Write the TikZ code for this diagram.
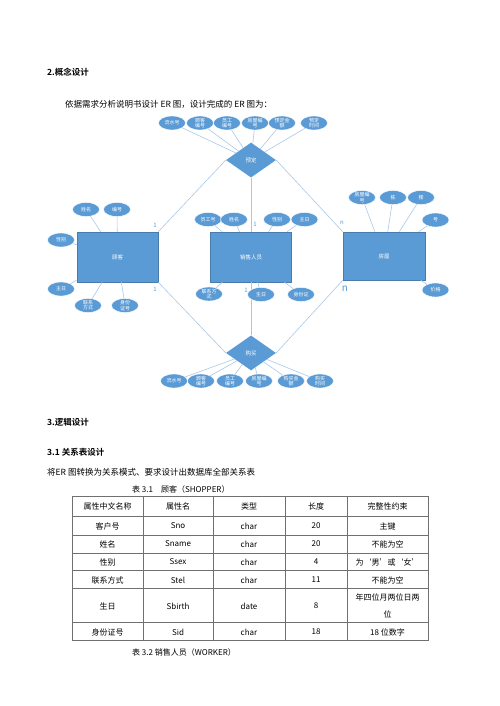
\documentclass[tikz,border=0pt]{standalone}
\usepackage{fontspec}
\setmainfont{Noto Sans CJK SC}[BoldFont={Noto Sans CJK SC Bold}]
\usepackage{tikz}
\usetikzlibrary{positioning, shapes.geometric}

\definecolor{erblue}{HTML}{5B9BD5}
\definecolor{erline}{HTML}{A9C8E8}
\definecolor{tabgray}{HTML}{707070}

\tikzset{
  entity/.style={draw=erblue!80!black, line width=0.5pt, fill=erblue, text=white,
    minimum width=81pt, minimum height=50pt, font=\fontsize{5.5}{6}\selectfont},
  relation/.style={diamond, fill=erblue, text=white, minimum width=50pt,
    minimum height=35pt, inner sep=0pt, font=\fontsize{5.5}{6}\selectfont},
  attr/.style={ellipse, fill=erblue, draw=white, line width=0.4pt, text=white,
    minimum width=27pt, minimum height=14pt, inner sep=0pt, align=center,
    font=\fontsize{5}{5.2}\selectfont},
  erlink/.style={draw=erline, line width=0.6pt},
  card/.style={text=erblue, inner sep=0pt, font=\fontsize{6}{6}\selectfont},
  para/.style={anchor=base west, inner sep=0pt, font=\fontsize{8.5}{10}\selectfont},
  head/.style={para, font=\fontsize{8.5}{10}\selectfont\bfseries},
  cell/.style={inner sep=0pt, align=center, font=\fontsize{8}{17}\selectfont},
  tabline/.style={draw=tabgray, line width=0.6pt},
}

\begin{document}
\begin{tikzpicture}[x=1pt, y=-1pt]
\useasboundingbox (0,0) rectangle (500,706);

% section 2
\node[head] (sec2) at (47,75.7) {2.概念设计};
\node[para] (intro) at (65,108) {依据需求分析说明书设计 ER 图，设计完成的 ER 图为：};

% entities and relationships
\node[entity] (cust) at (117.5,257) {顾客};
\node[entity] (worker) at (251,257) {销售人员};
\node[entity, minimum width=82pt, minimum height=48pt] (house) at (384,256) {房屋};
\node[relation, above=54pt of worker] (book) {预定};
\node[relation, below=53pt of worker] (buy) {购买};

\draw[erlink] (book.west) -- (cust.north east);
\draw[erlink] (book) -- (worker);
\draw[erlink] (book.east) -- (house.north west);
\draw[erlink] (buy.west) -- (cust.south east);
\draw[erlink] (buy) -- (worker);
\draw[erlink] (buy.east) -- (house.south west);

% attributes of the relationships
\foreach \x/\txt [count=\i] in {172/流水号, 200/顾客\\编号, 227/员工\\编号,
    255/房屋编\\号, 282/预定金\\额, 314/预定\\时间} {
  \node[attr] (bk\i) at (\x,123) {\txt};
  \draw[erlink] (bk\i) -- (book);
}
\foreach \x/\txt [count=\i] in {174/流水号, 201/顾客\\编号, 230/员工\\编号,
    259/房屋编\\号, 291/购买金\\额, 320/购买\\时间} {
  \node[attr] (by\i) at (\x,381) {\txt};
  \draw[erlink] (by\i) -- (buy);
}

% customer
\node[attr] (c-name) at (86,209.5) {姓名};
\node[attr] (c-no) at (117,209.5) {编号};
\node[attr] (c-sex) at (61,240) {性别};
\node[attr] (c-bday) at (61,289) {主日};
\node[attr] (c-tel) at (88,305.5) {联系\\方式};
\node[attr] (c-id) at (125,305.5) {身份\\证号};
\foreach \a in {c-name,c-no,c-sex,c-bday,c-tel,c-id}
  \draw[erlink] (\a) -- (cust);

% sales staff
\node[attr] (w-no) at (208,219.5) {员工号};
\node[attr] (w-name) at (234,219.5) {姓名};
\node[attr] (w-sex) at (277,219.5) {性别};
\node[attr] (w-bday) at (304.5,219.5) {主日};
\node[attr] (w-tel) at (209,294) {联系方\\式};
\node[attr] (w-birth) at (261,294.5) {生日};
\node[attr] (w-id) at (301,294.5) {身份证};
\foreach \a in {w-no,w-name,w-sex,w-bday,w-tel,w-birth,w-id}
  \draw[erlink] (\a) -- (worker);

% house
\node[attr] (h-no) at (362,197.5) {房屋编\\号};
\node[attr] (h-bldg) at (393,197.5) {栋};
\node[attr] (h-floor) at (421,197.5) {楼};
\node[attr] (h-num) at (435.5,220) {号};
\node[attr] (h-price) at (435.5,290) {价格};
\foreach \a in {h-no,h-bldg,h-floor,h-num,h-price}
  \draw[erlink] (\a) -- (house);

% cardinalities
\node[card] (k1) at (155,225) {1};
\node[card] (k2) at (155,289) {1};
\node[card] (k3) at (255,224) {1};
\node[card] (k4) at (246,290) {1};
\node[card] (k5) at (342,223) {n};
\node[card, font=\fontsize{10}{10}\selectfont] (k6) at (345,289) {n};

% section 3
\node[head] (sec3) at (47,425) {3.逻辑设计};
\node[head] (sec31) at (47,455.5) {3.1 关系表设计};
\node[para] (conv) at (47,475) {将ER 图转换为关系模式、要求设计出数据库全部关系表};
\node[para, font=\fontsize{8}{10}\selectfont] (cap1) at (132,492) {表 3.1\quad 顾客（SHOPPER）};

% table 3.1
\foreach \y in {516,535,553,570,588,622}
  \draw[tabline] (72,\y) -- (428,\y);
\foreach \x in {143,213,285,347}
  \draw[tabline] (\x,496) -- (\x,640);
\draw[tabline, line width=1pt] (72,496) rectangle (428,640);
\foreach \y/\a/\b/\c/\d/\e [count=\r] in {
    506/属性中文名称/属性名/类型/长度/完整性约束,
    526/客户号/Sno/char/20/主键,
    544/姓名/Sname/char/20/不能为空,
    562/性别/Ssex/char/4/为‘男’或‘女’,
    580/联系方式/Stel/char/11/不能为空,
    606/生日/Sbirth/date/8/{年四位月两位日两\\位},
    632/身份证号/Sid/char/18/18 位数字} {
  \node[cell] (t\r-1) at (107.5,\y) {\a};
  \node[cell] (t\r-2) at (178,\y) {\b};
  \node[cell] (t\r-3) at (249,\y) {\c};
  \node[cell] (t\r-4) at (316,\y) {\d};
  \node[cell] (t\r-5) at (387.5,\y) {\e};
}
\node[para, font=\fontsize{8}{10}\selectfont] (cap2) at (132,655) {表 3.2 销售人员（WORKER）};
\end{tikzpicture}
\end{document}
